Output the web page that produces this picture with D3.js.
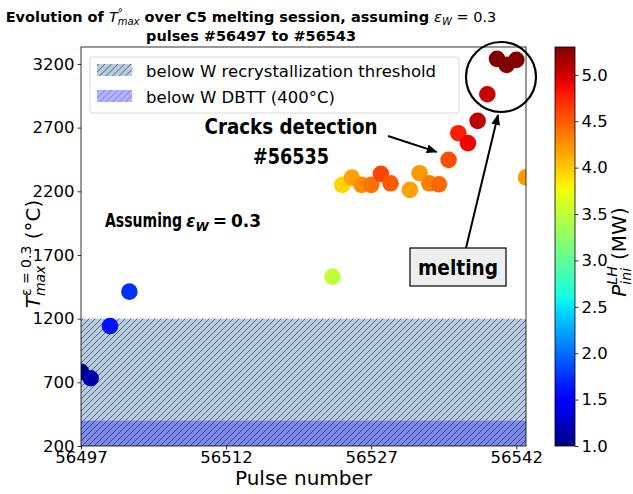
<!DOCTYPE html>
<html>
<head>
<meta charset="utf-8">
<script src="https://cdn.jsdelivr.net/npm/d3@7"></script>
<style>
body { margin: 0; background: #fff; }
text { font-family: "DejaVu Sans", sans-serif; }
</style>
</head>
<body>
<div id="chart"></div>
<script>
// data
var pulses = [56497, 56498, 56500, 56502, 56523, 56524, 56525, 56526, 56527, 56528, 56529,
              56531, 56532, 56533, 56534, 56535, 56536, 56537, 56538, 56539, 56540, 56541, 56542, 56543];
var tmax = [783, 732, 1142, 1412, 1530, 2250, 2307, 2250, 2250, 2337, 2263,
            2211, 2342, 2263, 2255, 2447, 2656, 2578, 2753, 2962, 3240, 3193, 3232, 2309];
var plh = [1.0, 1.15, 1.6, 1.75, 3.5, 3.94, 4.18, 4.26, 4.40, 4.61, 4.50,
           4.18, 4.22, 4.33, 4.44, 4.55, 4.77, 4.89, 5.06, 5.02, 5.3, 5.3, 5.3, 4.2];
var xTicks = [56497, 56512, 56527, 56542];
var yTicks = [200, 700, 1200, 1700, 2200, 2700, 3200];
var cTicks = [1.0, 1.5, 2.0, 2.5, 3.0, 3.5, 4.0, 4.5, 5.0];
var recrystLimit = 1200;
var dbttLimit = 400;
var legendLabels = ['below W recrystallization threshold', 'below W DBTT (400°C)'];
var crackPulse = 56535;

var W = 633, H = 494;
var pLeft = 81, pRight = 526, pTop = 47, pBottom = 446;

// matplotlib jet
var jetR = [[0, 0], [0.35, 0], [0.66, 1], [0.89, 1], [1, 0.5]];
var jetG = [[0, 0], [0.125, 0], [0.375, 1], [0.64, 1], [0.91, 0], [1, 0]];
var jetB = [[0, 0.5], [0.11, 1], [0.34, 1], [0.65, 0], [1, 0]];
function piece(pts, t) {
    for (var i = 1; i < pts.length; i++) {
        if (t <= pts[i][0]) {
            var a = pts[i - 1], b = pts[i];
            return a[1] + (b[1] - a[1]) * (t - a[0]) / (b[0] - a[0]);
        }
    }
    return pts[pts.length - 1][1];
}
function jet(t) {
    t = Math.max(0, Math.min(1, t));
    return d3.rgb(piece(jetR, t) * 255, piece(jetG, t) * 255, piece(jetB, t) * 255).formatHex();
}

var x = d3.scaleLinear().domain([56497, 56543]).range([pLeft, pRight]);
var y = d3.scaleLinear().domain([200, 3333]).range([pBottom, pTop]);
var cNorm = d3.scaleLinear().domain([1.0, 5.3]).range([0, 1]);
var color = function (v) { return jet(cNorm(v)); };

var svg = d3.select('#chart').append('svg')
    .attr('width', W).attr('height', H);
var defs = svg.append('defs');

function hatch(id, col, size, sw) {
    defs.append('pattern').attr('id', id)
        .attr('patternUnits', 'userSpaceOnUse')
        .attr('width', size).attr('height', size)
        .append('path')
        .attr('d', 'M0,' + size + ' L' + size + ',0 M' + (-size / 4) + ',' + (size / 4) + ' L' + (size / 4) + ',' + (-size / 4) +
              ' M' + (size * 3 / 4) + ',' + (size * 5 / 4) + ' L' + (size * 5 / 4) + ',' + (size * 3 / 4))
        .attr('stroke', col).attr('stroke-width', sw);
}
hatch('hatchDark', '#3a4250', 6, 0.75);
hatch('hatchBlue', '#20258a', 6, 0.75);
hatch('hatchDarkL', '#3a4250', 6.5, 0.8);
hatch('hatchBlueL', '#6565e0', 6.5, 0.8);

defs.append('clipPath').attr('id', 'plotClip')
    .append('rect').attr('x', pLeft).attr('y', pTop)
    .attr('width', pRight - pLeft).attr('height', pBottom - pTop);

defs.append('marker').attr('id', 'arrow')
    .attr('viewBox', '0 0 10 10').attr('refX', 9).attr('refY', 5)
    .attr('markerUnits', 'userSpaceOnUse')
    .attr('markerWidth', 11).attr('markerHeight', 11)
    .attr('orient', 'auto')
    .append('path').attr('d', 'M0,1 L10,5 L0,9 z').attr('fill', '#000');

// shaded regions
var plot = svg.append('g').attr('clip-path', 'url(#plotClip)');
plot.append('rect').attr('x', pLeft).attr('width', pRight - pLeft)
    .attr('y', y(recrystLimit)).attr('height', y(200) - y(recrystLimit))
    .attr('fill', '#b8cde1');
plot.append('rect').attr('x', pLeft).attr('width', pRight - pLeft)
    .attr('y', y(recrystLimit)).attr('height', y(dbttLimit) - y(recrystLimit))
    .attr('fill', 'url(#hatchDark)');
plot.append('rect').attr('x', pLeft).attr('width', pRight - pLeft)
    .attr('y', y(dbttLimit)).attr('height', y(200) - y(dbttLimit))
    .attr('fill', 'rgb(126,140,232)');
plot.append('rect').attr('x', pLeft).attr('width', pRight - pLeft)
    .attr('y', y(dbttLimit)).attr('height', y(200) - y(dbttLimit))
    .attr('fill', 'url(#hatchBlue)');

// scatter
var pts = pulses.map(function (p, i) { return {p: p, t: tmax[i], c: plh[i]}; });
plot.selectAll('circle.pt').data(pts).enter().append('circle')
    .attr('class', 'pt')
    .attr('cx', function (d) { return x(d.p); })
    .attr('cy', function (d) { return y(d.t); })
    .attr('r', 8.3)
    .attr('fill', function (d) { return color(d.c); });

// axes
var xAxis = svg.append('g').attr('transform', 'translate(0,' + pBottom + ')')
    .call(d3.axisBottom(x).tickValues(xTicks).tickFormat(d3.format('d')).tickSizeOuter(0).tickSize(3.5).tickPadding(2));
var yAxis = svg.append('g').attr('transform', 'translate(' + pLeft + ',0)')
    .call(d3.axisLeft(y).tickValues(yTicks).tickFormat(d3.format('d')).tickSizeOuter(0).tickSize(3.5).tickPadding(3));
[xAxis, yAxis].forEach(function (a) {
    a.select('.domain').remove();
    a.selectAll('.tick line').attr('stroke', '#000').attr('stroke-width', 0.8);
    a.selectAll('.tick text').attr('font-family', 'DejaVu Sans').attr('font-size', 16.5).attr('fill', '#000');
});
svg.append('rect').attr('x', pLeft).attr('y', pTop)
    .attr('width', pRight - pLeft).attr('height', pBottom - pTop)
    .attr('fill', 'none').attr('stroke', '#000').attr('stroke-width', 0.8);

svg.append('text').attr('x', (pLeft + pRight) / 2).attr('y', 485)
    .attr('text-anchor', 'middle').attr('font-size', 20).text('Pulse number');

// y label T^{eps=0.3}_{max} (°C)
var yl = svg.append('text').attr('transform', 'translate(40,254) rotate(-90)')
    .attr('text-anchor', 'middle').attr('font-size', 20);
yl.append('tspan').attr('font-style', 'italic').text('T');
var ySup = yl.append('tspan').attr('font-size', 14).attr('dy', -9).text('ε = 0.3');
var ySub = yl.append('tspan').attr('font-size', 14).attr('font-style', 'italic').attr('dy', 14).text('max');
var yRest = yl.append('tspan').attr('dy', -5).text(' (°C)');
var supW = ySup.node().getComputedTextLength(), subW = ySub.node().getComputedTextLength();
ySub.attr('dx', -supW);
yRest.attr('dx', Math.max(0, supW - subW));

// title
var t1 = svg.append('text').attr('x', 251).attr('y', 22).attr('text-anchor', 'middle')
    .attr('font-size', 14.5);
t1.append('tspan').attr('font-weight', 'bold').text('Evolution of ');
t1.append('tspan').attr('font-style', 'italic').text('T');
var tSup = t1.append('tspan').attr('font-size', 10).attr('dy', -6).text('°');
var tSub = t1.append('tspan').attr('font-size', 10).attr('font-style', 'italic').attr('dy', 9).text('max');
t1.append('tspan').attr('font-weight', 'bold').attr('dy', -3).text(' over C5 melting session, assuming ');
tSub.attr('dx', -tSup.node().getComputedTextLength());
t1.append('tspan').attr('font-style', 'italic').text('ε');
t1.append('tspan').attr('font-size', 10).attr('font-style', 'italic').attr('dy', 3).text('W');
t1.append('tspan').attr('dy', -3).text(' = 0.3');
svg.append('text').attr('x', 251).attr('y', 41).attr('text-anchor', 'middle')
    .attr('font-size', 14.5).attr('font-weight', 'bold')
    .text('pulses #' + pulses[0] + ' to #' + pulses[pulses.length - 1]);

// legend
var lg = svg.append('g');
lg.append('rect').attr('x', 90).attr('y', 57).attr('width', 369).attr('height', 56).attr('rx', 3)
    .attr('fill', '#fff').attr('fill-opacity', 0.85).attr('stroke', '#d8d8d8');
var legFills = [['#b8cde1', 'url(#hatchDarkL)'], ['rgb(179,179,255)', 'url(#hatchBlueL)']];
legendLabels.forEach(function (lab, i) {
    var yy = 64 + i * 26;
    lg.append('rect').attr('x', 97).attr('y', yy).attr('width', 35).attr('height', 12).attr('fill', legFills[i][0]);
    lg.append('rect').attr('x', 97).attr('y', yy).attr('width', 35).attr('height', 12).attr('fill', legFills[i][1]);
    lg.append('text').attr('x', 146).attr('y', yy + 12.5).attr('font-size', 16.5).text(lab);
});

// annotations
var annFont = '"Liberation Sans", Arial, sans-serif';
svg.append('text').attr('x', 291).attr('y', 134).attr('text-anchor', 'middle')
    .attr('font-family', annFont).attr('font-weight', 'bold').attr('font-size', 22)
    .attr('textLength', 173).attr('lengthAdjust', 'spacingAndGlyphs').text('Cracks detection');
svg.append('text').attr('x', 291).attr('y', 164).attr('text-anchor', 'middle')
    .attr('font-family', annFont).attr('font-weight', 'bold').attr('font-size', 22)
    .attr('textLength', 76).attr('lengthAdjust', 'spacingAndGlyphs').text('#' + crackPulse);
var ci = pulses.indexOf(crackPulse);
svg.append('line').attr('x1', 388).attr('y1', 136)
    .attr('x2', x(crackPulse) - 12).attr('y2', y(tmax[ci]) - 8)
    .attr('stroke', '#000').attr('stroke-width', 2).attr('marker-end', 'url(#arrow)');

svg.append('text').attr('x', 105).attr('y', 227)
    .attr('font-family', annFont).attr('font-weight', 'bold').attr('font-size', 19)
    .attr('textLength', 77).attr('lengthAdjust', 'spacingAndGlyphs').text('Assuming');
var assum = svg.append('text').attr('x', 186).attr('y', 227)
    .attr('font-family', '"DejaVu Serif", serif').attr('font-weight', 'bold').attr('font-size', 17);
assum.append('tspan').attr('font-style', 'italic').text('ε');
assum.append('tspan').attr('font-style', 'italic').attr('font-size', 12).attr('dy', 4).text('W');
assum.append('tspan').attr('dy', -4).attr('dx', 4).text('=');
assum.append('tspan').attr('dx', 4).text('0.3');

svg.append('ellipse').attr('cx', 501).attr('cy', 77).attr('rx', 35).attr('ry', 35)
    .attr('fill', 'none').attr('stroke', '#000').attr('stroke-width', 2.2);
svg.append('line').attr('x1', 466).attr('y1', 248).attr('x2', 498).attr('y2', 115)
    .attr('stroke', '#000').attr('stroke-width', 2).attr('marker-end', 'url(#arrow)');
svg.append('rect').attr('x', 410).attr('y', 248).attr('width', 96).attr('height', 38)
    .attr('fill', '#eeeeee').attr('stroke', '#000').attr('stroke-width', 1.2);
svg.append('text').attr('x', 458).attr('y', 275).attr('text-anchor', 'middle')
    .attr('font-family', annFont).attr('font-weight', 'bold').attr('font-size', 22)
    .attr('textLength', 80).attr('lengthAdjust', 'spacingAndGlyphs').text('melting');

// colorbar
var cbX = 555, cbW = 20;
var cy = d3.scaleLinear().domain([1.0, 5.3]).range([pBottom, pTop]);
var grad = defs.append('linearGradient').attr('id', 'jetGrad')
    .attr('x1', 0).attr('y1', 1).attr('x2', 0).attr('y2', 0);
d3.range(0, 1.0001, 0.02).forEach(function (t) {
    grad.append('stop').attr('offset', t).attr('stop-color', jet(t));
});
svg.append('rect').attr('x', cbX).attr('y', pTop).attr('width', cbW).attr('height', pBottom - pTop)
    .attr('fill', 'url(#jetGrad)').attr('stroke', '#000').attr('stroke-width', 0.8);
var cAxis = svg.append('g').attr('transform', 'translate(' + (cbX + cbW) + ',0)')
    .call(d3.axisRight(cy).tickValues(cTicks).tickFormat(d3.format('.1f')).tickSize(3.5).tickPadding(3).tickSizeOuter(0));
cAxis.select('.domain').remove();
cAxis.selectAll('.tick line').attr('stroke', '#000').attr('stroke-width', 0.8);
cAxis.selectAll('.tick text').attr('font-family', 'DejaVu Sans').attr('font-size', 16.5).attr('fill', '#000');

var cl = svg.append('text').attr('transform', 'translate(626,252) rotate(-90)')
    .attr('text-anchor', 'middle').attr('font-size', 20);
cl.append('tspan').attr('font-style', 'italic').text('P');
var cSup = cl.append('tspan').attr('font-size', 14).attr('font-style', 'italic').attr('dy', -9).text('LH');
var cSub = cl.append('tspan').attr('font-size', 14).attr('font-style', 'italic').attr('dy', 14).text('ini');
var cRest = cl.append('tspan').attr('dy', -5).text(' (MW)');
var csw = cSup.node().getComputedTextLength(), cbw = cSub.node().getComputedTextLength();
cSub.attr('dx', -csw);
cRest.attr('dx', Math.max(0, csw - cbw));
</script>
</body>
</html>
